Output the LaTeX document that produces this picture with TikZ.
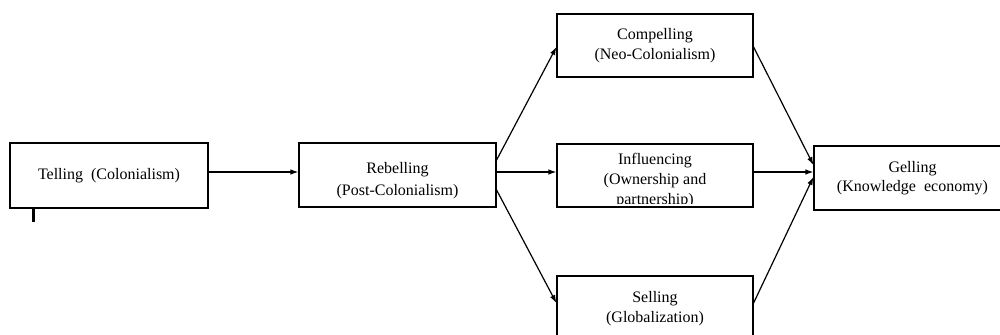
\documentclass[tikz,border=0pt]{standalone}
\usepackage{fontspec}
\setmainfont{Liberation Serif}
\usetikzlibrary{arrows.meta,calc}
\begin{document}
\begin{tikzpicture}[x=0.75pt,y=-0.75pt,
  stagebox/.style={draw, line width=0.9pt, minimum width=197*0.75pt,
    minimum height=64*0.75pt, inner sep=0pt, align=center,
    font=\fontsize{12}{14.5}\selectfont},
  toptext/.style={draw=none, anchor=north, align=center, inner sep=0pt,
    minimum width=0pt, minimum height=0pt},
  flow/.style={-{Latex[length=6pt,width=4.2pt]}, line width=0.9pt}]
% canvas
\clip (0,0) rectangle (1000,335);
\fill[white] (0,0) rectangle (1000,335);

% stages
\node[stagebox, minimum width=198*0.75pt, minimum height=65*0.75pt]
  (tell) at (109,175.5) {Telling \ (Colonialism)};
\node[stagebox,
  path picture={\node[toptext, font=\fontsize{12}{16.5}\selectfont]
      at ([yshift=-14pt]path picture bounding box.north)
      {Rebelling\\(Post-Colonialism)};}]
  (rebel) at (397.5,175) {};
\node[stagebox, minimum width=196*0.75pt, minimum height=63*0.75pt]
  (comp) at (655,45.5) {Compelling\\(Neo-Colonialism)};
% the text frame of this box is too short, so its last line is cut off
\node[stagebox, minimum width=196*0.75pt, minimum height=63*0.75pt,
  path picture={
    \clip (path picture bounding box.north west) rectangle
          ([yshift=2.6pt]path picture bounding box.south east);
    \node[toptext, font=\fontsize{12}{15}\selectfont]
      at ([yshift=-6.6pt]path picture bounding box.north)
      {Influencing\\(Ownership and\\partnership)};}]
  (infl) at (655,175.5) {};
\node[stagebox, minimum width=196*0.75pt, minimum height=65*0.75pt]
  (sell) at (655,308.5) {Selling\\(Globalization)};
\node[stagebox] (gel) at (912.5,178) {Gelling\\(Knowledge \ economy)};

% text cursor mark
\coordinate (curtop) at (33.5,207);
\coordinate (curbot) at (33.5,222);
\draw[line width=1.6pt] (curtop) -- (curbot);

% connectors
\draw[flow] ($(tell.east)+(0,-3.5)$) -- ($(rebel.west)+(0,-3)$);
\draw[flow] ($(rebel.east)+(0,-15)$) -- ($(comp.west)+(0,1.5)$);
\draw[flow] ($(rebel.east)+(0,-3)$) -- ($(infl.west)+(0,-3.5)$);
\draw[flow] ($(rebel.east)+(0,15)$) -- ($(sell.west)+(0,-5.5)$);
\draw[flow] ($(comp.east)+(0,1.5)$) -- ($(gel.west)+(0,-13)$);
\draw[flow] ($(infl.east)+(0,-3.5)$) -- ($(gel.west)+(0,-6)$);
\draw[flow] ($(sell.east)+(0,-5.5)$) -- ($(gel.west)+(0,-1)$);
\end{tikzpicture}
\end{document}
